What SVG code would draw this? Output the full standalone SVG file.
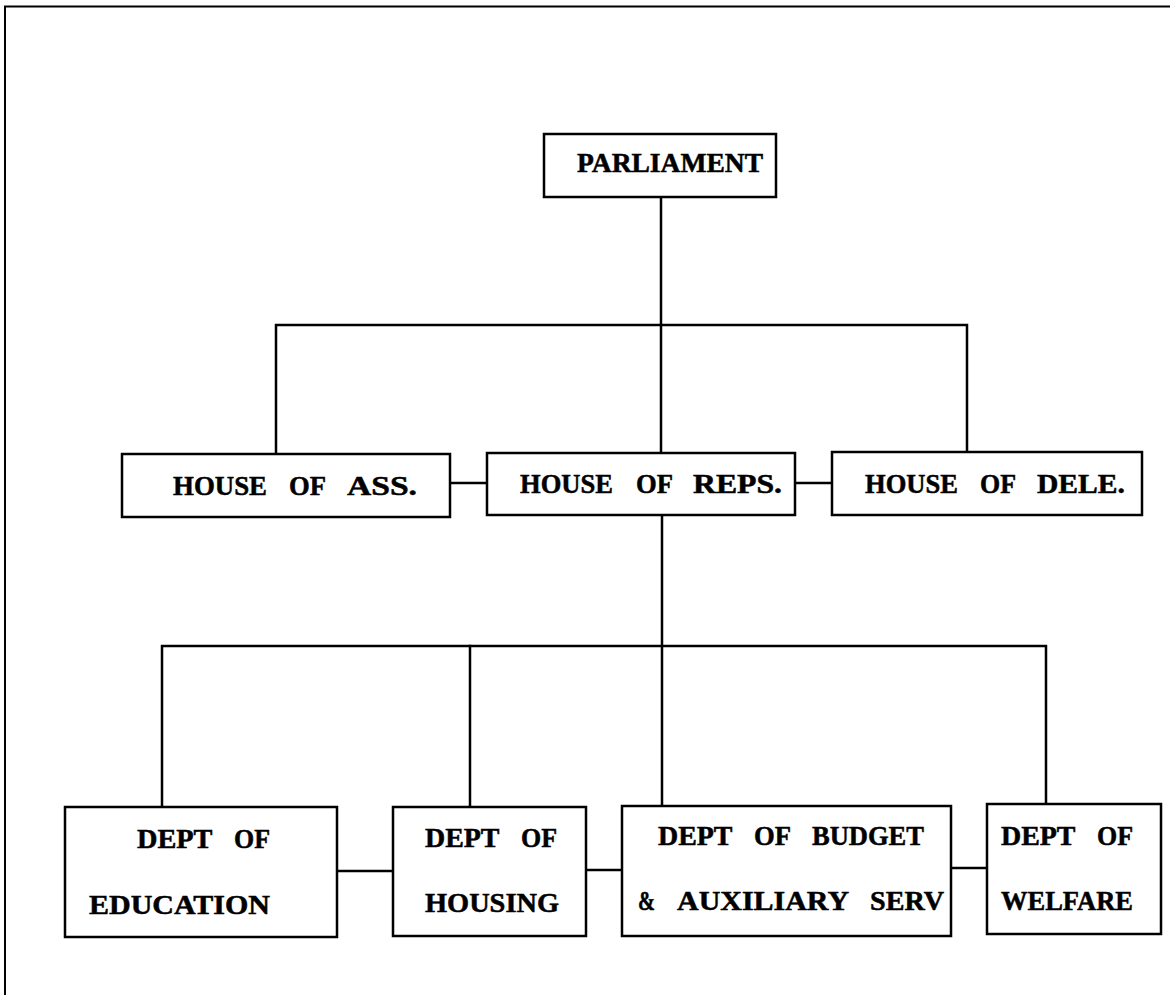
<svg xmlns="http://www.w3.org/2000/svg" width="1170" height="995" viewBox="0 0 1170 995">
  <style>
    .box { fill: #ffffff; stroke: #000000; stroke-width: 2.5; }
    .wire { fill: none; stroke: #000000; stroke-width: 2.5; stroke-linecap: square; }
    .frame { fill: none; stroke: #000000; stroke-width: 2; }
    .lbl { font-family: "Liberation Serif", "DejaVu Serif", serif; font-weight: bold; font-size: 27px; fill: #000000; stroke: #000000; stroke-width: 0.5; }
  </style>
  <rect x="0" y="0" width="1170" height="995" fill="#ffffff"/>

  <!-- page frame: top and left rule -->
  <g id="frame">
    <polyline class="frame" points="5,995 5,6.5 1170,6.5"/>
  </g>

  <!-- connectors -->
  <g id="connectors">
    <!-- parliament to the three houses -->
    <line class="wire" x1="661" y1="197" x2="661" y2="453"/>
    <polyline class="wire" points="276,454 276,325 967,325 967,452"/>
    <!-- links between houses -->
    <line class="wire" x1="450" y1="483" x2="487" y2="483"/>
    <line class="wire" x1="795" y1="483" x2="832" y2="483"/>
    <!-- house of reps to departments -->
    <line class="wire" x1="662" y1="515" x2="662" y2="806"/>
    <polyline class="wire" points="162,807 162,646 1046,646 1046,804"/>
    <line class="wire" x1="470" y1="646" x2="470" y2="807"/>
    <!-- links between departments -->
    <line class="wire" x1="337" y1="871" x2="393" y2="871"/>
    <line class="wire" x1="586" y1="870" x2="622" y2="870"/>
    <line class="wire" x1="951" y1="868" x2="987" y2="868"/>
  </g>

  <g id="parliament">
    <rect class="box" x="544" y="134" width="232" height="63"/>
    <text class="lbl" x="577" y="172" textLength="186" lengthAdjust="spacingAndGlyphs">PARLIAMENT</text>
  </g>

  <g id="house-ass">
    <rect class="box" x="122" y="454" width="328" height="63"/>
    <text class="lbl" y="495"><tspan x="173" textLength="94" lengthAdjust="spacingAndGlyphs">HOUSE</tspan> <tspan x="289" textLength="36" lengthAdjust="spacingAndGlyphs">OF</tspan> <tspan x="347" textLength="70" lengthAdjust="spacingAndGlyphs">ASS.</tspan></text>
  </g>

  <g id="house-reps">
    <rect class="box" x="487" y="453" width="308" height="62"/>
    <text class="lbl" y="493"><tspan x="520" textLength="93" lengthAdjust="spacingAndGlyphs">HOUSE</tspan> <tspan x="636" textLength="36" lengthAdjust="spacingAndGlyphs">OF</tspan> <tspan x="693" textLength="89" lengthAdjust="spacingAndGlyphs">REPS.</tspan></text>
  </g>

  <g id="house-dele">
    <rect class="box" x="832" y="452" width="310" height="63"/>
    <text class="lbl" y="493"><tspan x="865" textLength="93" lengthAdjust="spacingAndGlyphs">HOUSE</tspan> <tspan x="980" textLength="35" lengthAdjust="spacingAndGlyphs">OF</tspan> <tspan x="1037" textLength="88" lengthAdjust="spacingAndGlyphs">DELE.</tspan></text>
  </g>

  <g id="dept-education">
    <rect class="box" x="65" y="807" width="272" height="130"/>
    <text class="lbl" y="848"><tspan x="137" textLength="75" lengthAdjust="spacingAndGlyphs">DEPT</tspan> <tspan x="234" textLength="36" lengthAdjust="spacingAndGlyphs">OF</tspan></text>
    <text class="lbl" x="89" y="914" textLength="181" lengthAdjust="spacingAndGlyphs">EDUCATION</text>
  </g>

  <g id="dept-housing">
    <rect class="box" x="393" y="807" width="193" height="129"/>
    <text class="lbl" y="847"><tspan x="425" textLength="74" lengthAdjust="spacingAndGlyphs">DEPT</tspan> <tspan x="521" textLength="36" lengthAdjust="spacingAndGlyphs">OF</tspan></text>
    <text class="lbl" x="425" y="912" textLength="134" lengthAdjust="spacingAndGlyphs">HOUSING</text>
  </g>

  <g id="dept-budget">
    <rect class="box" x="622" y="806" width="329" height="130"/>
    <text class="lbl" y="845"><tspan x="658" textLength="74" lengthAdjust="spacingAndGlyphs">DEPT</tspan> <tspan x="754" textLength="36" lengthAdjust="spacingAndGlyphs">OF</tspan> <tspan x="812" textLength="112" lengthAdjust="spacingAndGlyphs">BUDGET</tspan></text>
    <text class="lbl" y="910"><tspan x="638" textLength="17" lengthAdjust="spacingAndGlyphs">&amp;</tspan> <tspan x="677" textLength="171" lengthAdjust="spacingAndGlyphs">AUXILIARY</tspan> <tspan x="870" textLength="74" lengthAdjust="spacingAndGlyphs">SERV</tspan></text>
  </g>

  <g id="dept-welfare">
    <rect class="box" x="987" y="804" width="174" height="130"/>
    <text class="lbl" y="845"><tspan x="1001" textLength="74" lengthAdjust="spacingAndGlyphs">DEPT</tspan> <tspan x="1097" textLength="36" lengthAdjust="spacingAndGlyphs">OF</tspan></text>
    <text class="lbl" x="1001" y="910" textLength="132" lengthAdjust="spacingAndGlyphs">WELFARE</text>
  </g>
</svg>
